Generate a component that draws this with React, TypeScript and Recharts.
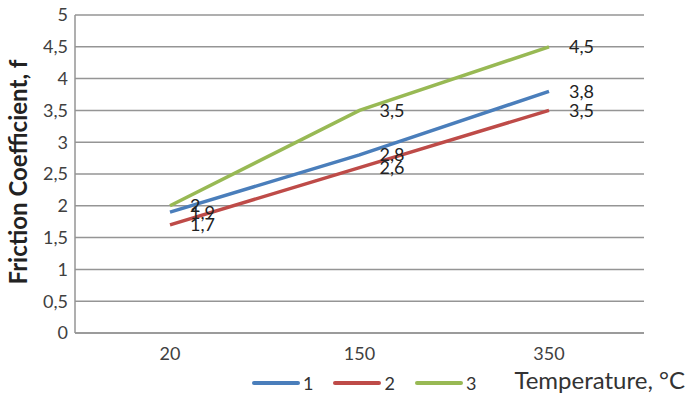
import React from "react";
import {
  LineChart,
  Line,
  XAxis,
  YAxis,
  CartesianGrid,
  Legend,
  LabelList,
} from "recharts";

const temperatures = ["20", "150", "350"];
const series1 = [1.9, 2.8, 3.8];
const series2 = [1.7, 2.6, 3.5];
const series3 = [2, 3.5, 4.5];
const yTicks = [0, 0.5, 1, 1.5, 2, 2.5, 3, 3.5, 4, 4.5, 5];

const data = temperatures.map((t, i) => ({
  t,
  s1: series1[i],
  s2: series2[i],
  s3: series3[i],
}));

const FONT = "Lato, 'Open Sans', sans-serif";
const comma = (v: any) => String(v).replace(".", ",");

const lines = [
  { key: "s1", name: "1", color: "#4A7EBB" },
  { key: "s2", name: "2", color: "#BE4B48" },
  { key: "s3", name: "3", color: "#98B954" },
];

function LegendBox() {
  return (
    <div
      style={{
        height: 30,
        display: "flex",
        alignItems: "flex-start",
        paddingLeft: 252,
        fontFamily: FONT,
        fontSize: 18,
        color: "#333",
      }}
    >
      {lines.map((l) => (
        <div
          key={l.key}
          style={{ display: "flex", alignItems: "center", marginRight: 20, height: 20 }}
        >
          <svg width={48} height={6} style={{ marginRight: 3 }}>
            <line x1={2} y1={3} x2={46} y2={3} stroke={l.color} strokeWidth={4} strokeLinecap="round" />
          </svg>
          <span>{l.name}</span>
        </div>
      ))}
    </div>
  );
}

export default function App() {
  return (
    <div style={{ position: "absolute", left: 0, top: 0, background: "#fff" }}>
      <LineChart
        width={687}
        height={403}
        data={data}
        margin={{ top: 15, right: 43, left: 0, bottom: 0 }}
      >
        <CartesianGrid vertical={false} stroke="#959595" strokeWidth={1.5} />
        <XAxis
          dataKey="t"
          height={40}
          padding={{ left: 95, right: 95 }}
          axisLine={{ stroke: "#959595", strokeWidth: 1.5 }}
          tickLine={false}
          tickSize={0}
          tickMargin={14}
          tick={{ fill: "#404040", fontSize: 18, fontFamily: FONT }}
          label={{
            value: "Temperature, °C",
            position: "insideBottomRight",
            offset: 0,
            dx: 41,
            dy: 16,
            fill: "#333",
            fontSize: 24,
            fontFamily: FONT,
          }}
        />
        <YAxis
          width={75}
          domain={[0, 5]}
          ticks={yTicks}
          interval={0}
          axisLine={{ stroke: "#959595", strokeWidth: 1.5 }}
          tickLine={false}
          tickSize={0}
          tickMargin={7}
          tickFormatter={comma}
          tick={{ fill: "#404040", fontSize: 18, fontFamily: FONT }}
          label={{
            value: "Friction Coefficient, f",
            angle: -90,
            position: "center",
            dx: -19,
            dy: -2,
            fill: "#222",
            fontSize: 24,
            fontWeight: "bold",
            fontFamily: FONT,
          }}
        />
        <Legend verticalAlign="bottom" content={<LegendBox />} />
        {lines.map((l) => (
          <Line
            key={l.key}
            type="linear"
            dataKey={l.key}
            name={l.name}
            stroke={l.color}
            strokeWidth={3.5}
            dot={false}
            isAnimationActive={false}
          >
            <LabelList
              dataKey={l.key}
              position="right"
              offset={20}
              formatter={comma}
              style={{ fill: "#222", fontSize: 18, fontFamily: FONT }}
            />
          </Line>
        ))}
      </LineChart>
    </div>
  );
}
